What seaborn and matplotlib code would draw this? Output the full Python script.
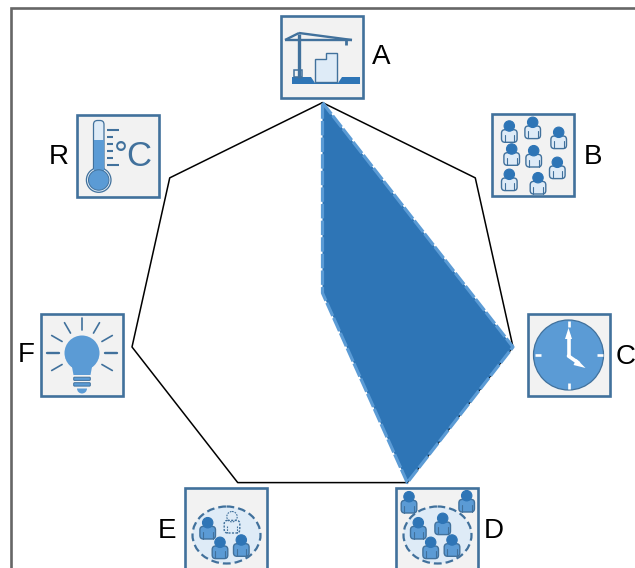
import numpy as np
import pandas as pd
import seaborn as sns
import matplotlib
matplotlib.use("Agg")
import matplotlib.pyplot as plt
from matplotlib.patches import Rectangle, Circle, Ellipse, Polygon, FancyBboxPatch, Wedge

# Data
categories = ["A", "B", "C", "D", "E", "F", "R"]
frame_values = [1, 1, 1, 1, 1, 1, 1]
# the filled shape only passes A, B, C, D and then a point just above the centre
series_axes = ["A", "B", "C", "D", "A", "A"]
series_values = [1.0, 0.623, 1.0, 1.0, 0.047, 1.0]

# Colours
BOX_FILL = "#f2f2f2"
EDGE = "#41719c"
DARK = "#2e75b6"
MID = "#5b9bd5"
LIGHT = "#deebf7"

sns.set_theme(style="white")
plt.rcParams["font.family"] = ["Liberation Sans", "DejaVu Sans"]

fig = plt.figure(figsize=(6.35, 5.68), dpi=100)
bg = fig.add_axes([0, 0, 1, 1])
bg.set_xlim(0, 635)
bg.set_ylim(568, 0)
bg.axis("off")

# Outer frame, only the top and left sides are in view
bg.plot([11, 11, 640], [575, 8, 8], color="#666666", lw=1.9, solid_joinstyle="miter")


def icon_box(x0, y0):
    bg.add_patch(Rectangle((x0, y0), 82, 82, fc=BOX_FILL, ec=EDGE, lw=1.9))


def shape(x0, y0, pts, **kw):
    pts = [(x0 + px, y0 + py) for px, py in pts]
    bg.add_patch(Polygon(pts, closed=True, **kw))


def seg(x0, y0, x1, y1, x2, y2, color=EDGE, lw=1.5):
    bg.plot([x0 + x1, x0 + x2], [y0 + y1, y0 + y2], color=color, lw=lw, solid_capstyle="butt")


def person(cx, cy, body=MID, edge=EDGE, head=DARK, ls="-"):
    bg.add_patch(FancyBboxPatch((cx - 6, cy + 5.5), 12, 9, boxstyle="round,pad=1.8,rounding_size=3.5",
                                fc=body, ec=edge, lw=1.0, ls=ls))
    bg.plot([cx - 4.8, cx - 4.8], [cy + 9, cy + 16], color=edge, lw=0.8, ls=ls)
    bg.plot([cx + 4.8, cx + 4.8], [cy + 9, cy + 16], color=edge, lw=0.8, ls=ls)
    bg.add_patch(Circle((cx, cy), 5.2, fc=head, ec=edge if ls != "-" else head, lw=0.8, ls=ls, zorder=3))


def crane_icon(x0, y0):
    icon_box(x0, y0)
    shape(x0, y0, [(11, 61), (30, 61), (34, 67), (57, 67), (61, 61), (79, 61), (79, 68), (11, 68)],
          fc=DARK, ec="none")
    shape(x0, y0, [(34, 43), (45, 43), (45, 37), (56, 37), (56, 66), (34, 66)], fc=LIGHT, ec=EDGE, lw=1.0)
    seg(x0, y0, 18, 18, 18, 62, lw=2.4)
    seg(x0, y0, 4, 24, 71, 24, lw=1.7)
    seg(x0, y0, 4, 24, 18, 17, lw=1.7)
    seg(x0, y0, 18, 17, 71, 24, lw=1.7)
    seg(x0, y0, 65, 24, 65, 29, lw=2.0)
    bg.add_patch(Rectangle((x0 + 13, y0 + 54), 8, 7, fc="none", ec=EDGE, lw=1.1))


def crowd_icon(x0, y0):
    icon_box(x0, y0)
    heads = [(17.3, 12), (40.7, 8.3), (66.7, 18.3), (19.7, 35), (41.7, 36.7), (65.3, 48.3), (17.3, 60.3), (46, 63.7)]
    for hx, hy in heads:
        person(x0 + hx, y0 + hy, body=LIGHT)


def clock_icon(x0, y0):
    icon_box(x0, y0)
    cx, cy = x0 + 40.5, y0 + 41
    bg.add_patch(Circle((cx, cy), 35, fc=MID, ec=EDGE, lw=0.9))
    for dx, dy in [(0, -1), (1, 0), (0, 1), (-1, 0)]:
        bg.plot([cx + dx * 28, cx + dx * 34], [cy + dy * 28, cy + dy * 34], color="white", lw=1.9, solid_capstyle="butt")
    bg.plot([cx, cx], [cy + 1, cy - 19], color="white", lw=2.6)
    bg.plot([cx, cx + 10], [cy + 1, cy + 8], color="white", lw=2.6)
    shape(cx, cy, [(-3.5, -16), (0, -27), (3.5, -16)], fc="white", ec="none", zorder=4)
    shape(cx, cy, [(8, 4), (17, 13), (5, 10)], fc="white", ec="none", zorder=4)


def group_icon(x0, y0, heads, outside=(), ghost=None):
    icon_box(x0, y0)
    bg.add_patch(Ellipse((x0 + 41.5, y0 + 47), 68, 57, fc=LIGHT, ec=EDGE, lw=1.6, ls=(0, (3.5, 1.8))))
    for hx, hy in list(heads) + list(outside):
        person(x0 + hx, y0 + hy)
    if ghost is not None:
        person(x0 + ghost[0], y0 + ghost[1], body="none", head="none", ls=(0, (1.5, 1)))


def bulb_icon(x0, y0):
    icon_box(x0, y0)
    cx, cy = x0 + 41, y0 + 39
    for ang in [0, 30, 60, 90, 120, 150, 180, -30, 210]:
        dx, dy = np.cos(np.radians(ang)), -np.sin(np.radians(ang))
        bg.plot([cx + 23 * dx, cx + 35 * dx], [cy + 23 * dy, cy + 35 * dy], color=EDGE, lw=1.2 if ang % 180 else 1.7)
    shape(cx, cy, [(-16.5, 5), (-10, 14), (-8.5, 22), (8.5, 22), (10, 14), (16.5, 5)], fc=MID, ec="none")
    bg.add_patch(Circle((cx, cy), 17.5, fc=MID, ec="none"))
    bg.add_patch(FancyBboxPatch((cx - 7.5, cy + 25), 15, 1.6, boxstyle="round,pad=0.8", fc=MID, ec=EDGE, lw=0.7))
    bg.add_patch(FancyBboxPatch((cx - 7.5, cy + 30.5), 15, 1.8, boxstyle="round,pad=0.8", fc=MID, ec=EDGE, lw=0.7))
    bg.add_patch(Wedge((cx, cy + 35.5), 5, 0, 180, fc=MID, ec="none"))


def thermo_icon(x0, y0):
    icon_box(x0, y0)
    bg.add_patch(FancyBboxPatch((x0 + 18, y0 + 7), 7.5, 56, boxstyle="round,pad=1.5,rounding_size=4", fc=LIGHT, ec=EDGE, lw=0.9))
    bg.add_patch(Circle((x0 + 21.7, y0 + 65), 12.3, fc=LIGHT, ec=EDGE, lw=0.9))
    bg.add_patch(Rectangle((x0 + 17, y0 + 25), 9.5, 38, fc=MID, ec="none", zorder=3))
    bg.add_patch(Circle((x0 + 21.7, y0 + 65), 10.2, fc=MID, ec=EDGE, lw=0.7, zorder=3))
    for i, ty in enumerate([15, 21.7, 29, 36, 42.7, 49.7]):
        seg(x0, y0, 30, ty, 42 if i in (0, 5) else 36, ty, lw=1.5)
    bg.text(x0 + 56, y0 + 41, "°C", color=EDGE, fontsize=25, ha="center", va="center")


crane_icon(281, 16)
crowd_icon(492, 114)
clock_icon(528, 314)
group_icon(396, 488, [(22.3, 34.7), (46.7, 30.3), (34.7, 54.3), (56, 52)], outside=[(13, 8.7), (70.7, 7.7)])
group_icon(185, 488, [(22.7, 34.7), (35, 54.3), (56.3, 52)], ghost=(47, 28.7))
bulb_icon(41, 314)
thermo_icon(77, 115)

label_pos = [(381, 57), (593, 157), (626, 357), (494, 531), (167, 531), (26, 355), (58.5, 157)]
for name, (lx, ly) in zip(categories, label_pos):
    bg.text(lx, ly, name, fontsize=20, color="black", ha="center", va="center")

# Radar part, stretched a touch taller than wide like the reference
ax = fig.add_axes([(322.5 - 195.4) / 635, 1 - (302.5 + 199.9) / 568, 2 * 195.4 / 635, 2 * 199.9 / 568], polar=True)
ax.set_theta_zero_location("N")
ax.set_theta_direction(-1)
ax.set_aspect("auto")

angles = np.linspace(0, 2 * np.pi, len(categories), endpoint=False)
angle_of = dict(zip(categories, angles))

frame_df = pd.DataFrame({"theta": np.append(angles, angles[0]), "r": frame_values + frame_values[:1]})
series_df = pd.DataFrame({"theta": [angle_of[c] for c in series_axes], "r": series_values})

sns.lineplot(data=frame_df, x="theta", y="r", ax=ax, sort=False, estimator=None, color="black", lw=1.1, clip_on=False)
ax.fill(series_df["theta"], series_df["r"], color=DARK, lw=0, zorder=3, clip_on=False)
sns.lineplot(data=series_df, x="theta", y="r", ax=ax, sort=False, estimator=None, color=MID,
             lw=2.3, linestyle=(0, (4.5, 0.7)), zorder=4, clip_on=False)

ax.set_ylim(0, 1)
ax.axis("off")

fig.savefig("out.png", dpi=100)
